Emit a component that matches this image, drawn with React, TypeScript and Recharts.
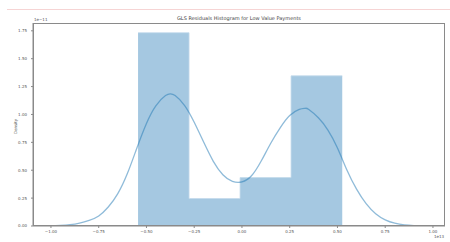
import { ComposedChart, Area, Line, XAxis, YAxis } from 'recharts';

// histogram bins (x in units of 1e13, density in units of 1e-11)
const binEdges = [-0.544, -0.277, -0.010, 0.257, 0.525];
const binDensity = [1.733, 0.246, 0.434, 1.346];

// KDE curve, sampled by eye
const kdeX = [-1.0, -0.95, -0.9, -0.85, -0.8, -0.75, -0.7, -0.65, -0.6, -0.55, -0.5, -0.45, -0.4, -0.375, -0.35, -0.3, -0.25, -0.2, -0.15, -0.1, -0.05, 0.0, 0.05, 0.1, 0.15, 0.2, 0.25, 0.3, 0.33, 0.35, 0.4, 0.45, 0.5, 0.55, 0.6, 0.65, 0.7, 0.75, 0.8, 0.85, 0.9, 0.95, 0.98];
const kdeY = [0.0, 0.005, 0.012, 0.026, 0.05, 0.09, 0.17, 0.29, 0.47, 0.7, 0.92, 1.08, 1.17, 1.185, 1.17, 1.08, 0.93, 0.75, 0.58, 0.46, 0.4, 0.395, 0.45, 0.58, 0.74, 0.88, 0.99, 1.045, 1.055, 1.045, 0.97, 0.86, 0.7, 0.5, 0.33, 0.2, 0.11, 0.055, 0.025, 0.01, 0.004, 0.001, 0.0];

const xTicks = [-1.0, -0.75, -0.5, -0.25, 0.0, 0.25, 0.5, 0.75, 1.0];
const yTicks = [0, 0.25, 0.5, 0.75, 1.0, 1.25, 1.5, 1.75];

const X_DOMAIN: [number, number] = [-1.094, 1.063];
const Y_DOMAIN: [number, number] = [0, 1.82];

const fmt = (v: number) => (v < 0 ? '\u2212' + Math.abs(v).toFixed(2) : v.toFixed(2));

export default function App() {
    const hist = binEdges.map((x, i) => ({ x, h: binDensity[Math.min(i, binDensity.length - 1)] }));
    const kde = kdeX.map((x, i) => ({ x, y: kdeY[i] }));

    const font = 'DejaVu Sans, sans-serif';
    const axisColor = '#8a8a8a';
    const tickStyle = { fontSize: 4, fill: '#555', fontFamily: font };

    return (
        <div style={{ position: 'absolute', left: 0, top: 0, width: 450, height: 242, background: '#fff', fontFamily: font }}>
            <div style={{ position: 'absolute', left: 7, top: 9, width: 443, borderTop: '1px solid #f6d4d4' }} />
            <div style={{ position: 'absolute', left: 33, width: 412, top: 15, fontSize: 5, color: '#444', textAlign: 'center' }}>
                GLS Residuals Histogram for Low Value Payments
            </div>
            <div style={{ position: 'absolute', left: 34, top: 17, fontSize: 4, color: '#555' }}>1e−11</div>
            <div style={{ position: 'absolute', left: 434, top: 234, fontSize: 4, color: '#555' }}>1e13</div>
            <div style={{ position: 'absolute', left: 8, top: 124, fontSize: 4, color: '#555', transform: 'rotate(-90deg)', transformOrigin: 'center' }}>
                Density
            </div>
            <ComposedChart width={450} height={242} margin={{ top: 23, right: 5, bottom: 0, left: 0 }}>
                <XAxis
                    dataKey="x"
                    type="number"
                    domain={X_DOMAIN}
                    allowDataOverflow
                    ticks={xTicks}
                    tickFormatter={fmt}
                    tick={tickStyle}
                    tickSize={2}
                    tickMargin={2}
                    height={16}
                    axisLine={{ stroke: axisColor }}
                    tickLine={{ stroke: axisColor }}
                />
                <YAxis
                    type="number"
                    domain={Y_DOMAIN}
                    allowDataOverflow
                    ticks={yTicks}
                    tickFormatter={(v: number) => v.toFixed(2)}
                    tick={tickStyle}
                    tickSize={2}
                    tickMargin={4}
                    width={33}
                    axisLine={{ stroke: axisColor }}
                    tickLine={{ stroke: axisColor }}
                />
                <Area
                    data={hist}
                    dataKey="h"
                    type="stepAfter"
                    fill="#a5c8e1"
                    fillOpacity={1}
                    stroke="#c4dbeb"
                    strokeWidth={0.8}
                    isAnimationActive={false}
                />
                <Line
                    data={kde}
                    dataKey="y"
                    type="natural"
                    dot={false}
                    stroke="#1f77b4"
                    strokeOpacity={0.5}
                    strokeWidth={1.3}
                    isAnimationActive={false}
                />
            </ComposedChart>
            {/* axes frame (top and right spines) */}
            <div style={{ position: 'absolute', left: 33, top: 23, width: 412, height: 203, boxSizing: 'border-box', border: `1px solid ${axisColor}`, pointerEvents: 'none' }} />
        </div>
    );
}
